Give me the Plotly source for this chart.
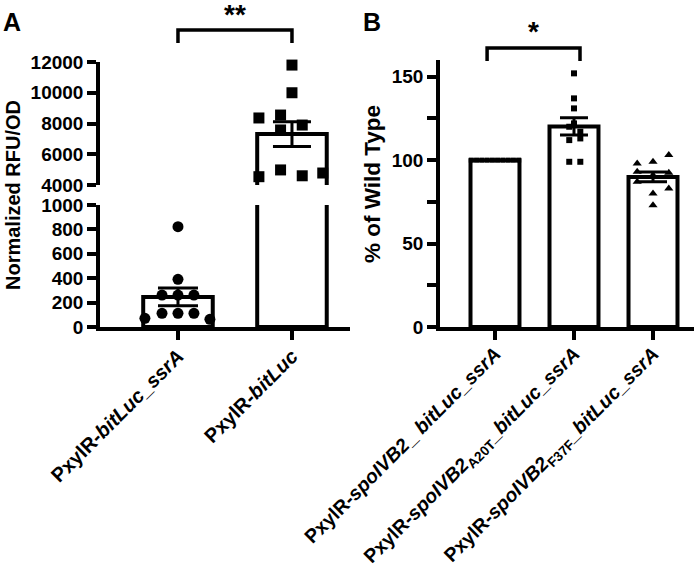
import numpy as np
import plotly.graph_objects as go

# ---------------- data ----------------
cats_a = ["PxylR-<i>bitLuc_ssrA</i>", "PxylR-<i>bitLuc</i>"]
cats_b = ["PxylR-<i>spoIVB2</i>_ <i>bitLuc_ssrA</i>",
          "PxylR-<i>spoIVB2</i><sub>A20T</sub>_<i>bitLuc_ssrA</i>",
          "PxylR-<i>spoIVB2</i><sub>F37F</sub>_<i>bitLuc_ssrA</i>"]

a_low_ticks = [0, 200, 400, 600, 800, 1000]
a_high_ticks = [4000, 6000, 8000, 10000, 12000]
b_ticks = [0, 50, 100, 150]

a_ssra = [822, 391, 262, 262, 262, 112, 112, 112, 71, 63]
a_bitluc = [11800, 10000, 8360, 8550, 7900, 7580, 4980, 4600, 4540, 4780]

b_wt = [100, 100, 100, 100, 100, 100, 100, 100, 100, 100]
b_a20t = [152, 137, 131, 122, 120, 117, 113, 112, 99, 99]
b_f37f = [103, 99, 98, 93, 92.5, 91, 87, 83, 80, 73]

# horizontal scatter of points within each column (in category units)
a_ssra_jit = [0, 0, -0.14, 0, 0.14, -0.14, 0, 0.14, -0.29, 0.28]
a_bitluc_jit = [0, 0, -0.29, -0.1, 0.09, -0.1, -0.1, 0.09, -0.29, 0.27]
b_wt_jit = [-0.3, -0.233, -0.167, -0.1, -0.033, 0.033, 0.1, 0.167, 0.233, 0.3]
b_a20t_jit = [0, 0, 0, 0, -0.06, 0.08, 0.08, -0.06, -0.06, 0.08]
b_f37f_jit = [0.2, 0, -0.2, -0.2, 0.2, 0, -0.2, 0.2, 0, 0]


def mean_sem(v):
    v = np.asarray(v, dtype=float)
    return float(v.mean()), float(v.std(ddof=1) / np.sqrt(len(v)))


# ---------------- geometry ----------------
W, H = 694, 572
L, R, T, B = 100, 0, 60, 572 - 327
PW, PH = W - L - R, H - T - B


def fx(p):
    return (p - L) / PW


def fy(p):
    return (327 - p) / PH


FONT = "Liberation Sans, Arial, sans-serif"
bar_style = dict(color="white", line=dict(color="black", width=4))

fig = go.Figure()


def add_bar(x, vals, xa, ya, width):
    m, _ = mean_sem(vals)
    fig.add_trace(go.Bar(x=[x], y=[m], width=width, marker=bar_style,
                         xaxis=xa, yaxis=ya, showlegend=False, hoverinfo="skip"))


def add_pts(x, vals, jit, xa, ya, symbol, size):
    fig.add_trace(go.Scatter(x=[x + j for j in jit], y=vals, mode="markers",
                             marker=dict(symbol=symbol, size=size, color="black",
                                         line=dict(width=0)),
                             xaxis=xa, yaxis=ya, showlegend=False, cliponaxis=False))


def add_err(x, vals, xa, ya, capw):
    m, s = mean_sem(vals)
    fig.add_trace(go.Scatter(x=[x], y=[m], mode="markers",
                             marker=dict(size=1, opacity=0),
                             error_y=dict(type="data", array=[s], visible=True,
                                          color="black", thickness=3, width=capw),
                             xaxis=xa, yaxis=ya, showlegend=False))


# Panel A (broken axis: y lower, y2 upper)
add_bar(0, a_ssra, "x", "y", 0.61)
add_bar(1, a_bitluc, "x", "y", 0.61)
add_bar(1, a_bitluc, "x", "y2", 0.61)
add_pts(0, a_ssra, a_ssra_jit, "x", "y", "circle", 11)
add_pts(1, a_bitluc, a_bitluc_jit, "x", "y2", "square", 11)
add_err(0, a_ssra, "x", "y", 20)
add_err(1, a_bitluc, "x", "y2", 19)

# Panel B
add_bar(0, b_wt, "x2", "y3", 0.62)
add_bar(1, b_a20t, "x2", "y3", 0.62)
add_bar(2, b_f37f, "x2", "y3", 0.62)
add_pts(0, b_wt, b_wt_jit, "x2", "y3", "square", 5)
add_pts(1, b_a20t, b_a20t_jit, "x2", "y3", "square", 6)
add_pts(2, b_f37f, b_f37f_jit, "x2", "y3", "triangle-up", 8)
add_err(1, b_a20t, "x2", "y3", 14)
add_err(2, b_f37f, "x2", "y3", 14)

tickfont = dict(family=FONT, size=19, color="black", weight="bold")
xtickfont_a = dict(family=FONT, size=20, color="black", weight="bold")
xtickfont_b = dict(family=FONT, size=19.5, color="black", weight="bold")
ax = dict(showline=True, linecolor="black", linewidth=3.5, ticks="outside",
          tickcolor="black", tickwidth=3.5, ticklen=9, showgrid=False,
          zeroline=False, tickfont=tickfont, fixedrange=True, automargin=False)

fig.update_layout(
    width=W, height=H, margin=dict(l=L, r=R, t=T, b=B, autoexpand=False),
    paper_bgcolor="white", plot_bgcolor="white", barmode="overlay",
    showlegend=False,
    xaxis=dict(ax, domain=[0, fx(350)], range=[-0.684, 1.509], tickvals=[0, 1],
               ticktext=cats_a, tickangle=-45, anchor="y", tickfont=xtickfont_a,
               ticklabelstandoff=-3),
    yaxis=dict(ax, domain=[0, fy(205)], range=[0, 1000],
               tickvals=a_low_ticks, ticktext=[str(v) for v in a_low_ticks], anchor="x"),
    yaxis2=dict(ax, domain=[fy(185), fy(62)], range=[4000, 12000],
                tickvals=a_high_ticks, ticktext=[str(v) for v in a_high_ticks], anchor="x"),
    xaxis2=dict(ax, domain=[fx(440), 1], range=[-0.696, 2.519], tickvals=[0, 1, 2],
                ticktext=cats_b, tickangle=-45, anchor="y3", tickfont=xtickfont_b,
                ticklabelstandoff=-5),
    yaxis3=dict(ax, domain=[0, 1], range=[0, 160], tickvals=b_ticks,
                ticktext=[str(v) for v in b_ticks],
                minor=dict(ticks="outside", dtick=25, ticklen=9, tickwidth=3.5,
                           tickcolor="black"),
                anchor="x2"),
)

# significance brackets
fig.add_shape(type="path", xref="x", yref="paper",
              path=f"M 0 {fy(43)} L 0 {fy(30)} L 1 {fy(30)} L 1 {fy(43)}",
              line=dict(color="black", width=3.5))
fig.add_shape(type="path", xref="x2", yref="paper",
              path=f"M -0.1 {fy(61)} L -0.1 {fy(48)} L 1.076 {fy(48)} L 1.076 {fy(61)}",
              line=dict(color="black", width=3.5))

ann = []
ann.append(dict(text="Normalized RFU/OD", x=fx(13), y=fy(195), xref="paper", yref="paper",
                textangle=-90, showarrow=False,
                font=dict(family=FONT, size=20, color="black", weight="bold"),
                xanchor="center", yanchor="middle"))
ann.append(dict(text="% of Wild Type", x=fx(372), y=fy(184), xref="paper", yref="paper",
                textangle=-90, showarrow=False,
                font=dict(family=FONT, size=22.5, color="black", weight="bold"),
                xanchor="center", yanchor="middle"))
letter_font = dict(family=FONT, size=25, color="black", weight="bold")
ann.append(dict(text="A", x=fx(12), y=fy(22), xref="paper", yref="paper",
                showarrow=False, font=letter_font, xanchor="center", yanchor="middle"))
ann.append(dict(text="B", x=fx(372), y=fy(22), xref="paper", yref="paper",
                showarrow=False, font=letter_font, xanchor="center", yanchor="middle"))
star_font = dict(family=FONT, size=28, color="black", weight="bold")
ann.append(dict(text="**", x=0.5, y=fy(14), xref="x", yref="paper",
                showarrow=False, font=star_font, xanchor="center", yanchor="middle"))
ann.append(dict(text="*", x=0.488, y=fy(32), xref="x2", yref="paper",
                showarrow=False, font=star_font, xanchor="center", yanchor="middle"))
fig.update_layout(annotations=ann)

# remove the browser's default 8px page margin so the figure sits at (0, 0)
fig.write_html("out.html", config={"displayModeBar": False},
               post_script="document.body.style.margin='0px';"
                           "document.body.style.padding='0px';")
